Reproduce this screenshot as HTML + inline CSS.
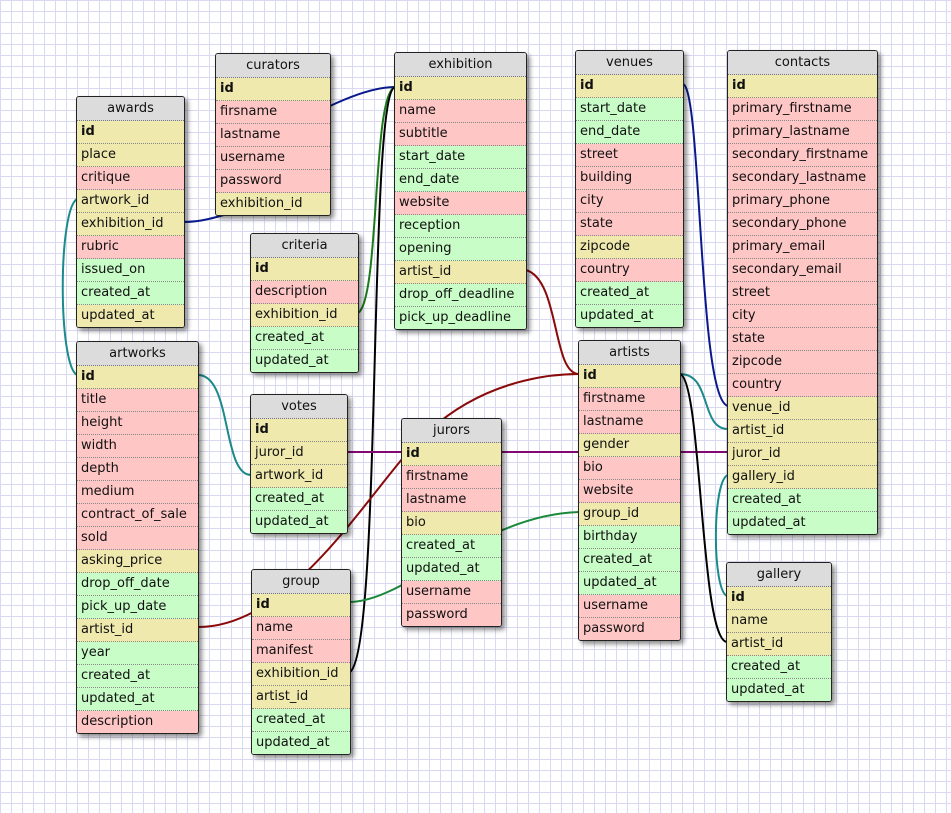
<!DOCTYPE html>
<html><head><meta charset="utf-8"><style>
body{margin:0;width:951px;height:813px;overflow:hidden;background:#fff;
background-image:linear-gradient(#d9d9f2 1px,transparent 1px),linear-gradient(90deg,#d9d9f2 1px,transparent 1px);background-size:11px 11px;font-family:"DejaVu Sans","Liberation Sans",sans-serif;font-size:13px;color:#111}
.t{position:absolute;border:1px solid #222;border-radius:3px;box-shadow:3px 3px 5px rgba(0,0,0,.45);overflow:hidden;background:#fff;z-index:2}
.h{height:23px;line-height:23px;text-align:center;background:#dcdcdc;border-bottom:1px dotted #777}
.r{height:22px;line-height:22px;padding-left:4px;border-bottom:1px dotted #888;white-space:nowrap}
.r:last-child{border-bottom:none}
.Y{background:#efe9ad}.P{background:#ffc6c6}.G{background:#c8fdc8}
.b{font-weight:bold}
svg{position:absolute;left:0;top:0;z-index:1}
</style></head><body>
<svg width="951" height="813" fill="none" stroke-width="2">
<path d="M184 222 C200 222,215 218,240 210" stroke="#0a1a8c"/>
<path d="M330 106 C360 92,380 87,395 87" stroke="#0a1a8c"/>
<path d="M358 313 C380 300,372 93,395 87" stroke="#1a7a1a"/>
<path d="M350 672 C382 650,368 93,395 87" stroke="#000"/>
<path d="M77 199 C58 210,58 365,77 375" stroke="#1a8a8a"/>
<path d="M198 375 C232 375,222 475,251 475" stroke="#1a8a8a"/>
<path d="M526 270 C560 280,552 374,579 374" stroke="#8a0a0a"/>
<path d="M198 627 C300 627,380 470,430 430 C480 385,540 374,579 374" stroke="#8a0a0a"/>
<path d="M347 452 L728 452" stroke="#800a70"/>
<path d="M350 602 C410 600,480 515,579 512" stroke="#1a8a3a"/>
<path d="M683 84 C702 90,698 400,728 406" stroke="#0a1a8c"/>
<path d="M680 374 C712 374,700 429,728 429" stroke="#1a8a8a"/>
<path d="M680 374 C702 380,700 640,727 642" stroke="#000"/>
<path d="M728 475 C712 480,712 590,727 596" stroke="#1a8a8a"/>
</svg>

<div class="t" style="left:76px;top:96px;width:107px"><div class="h">awards</div>
<div class="r Y b">id</div><div class="r Y">place</div><div class="r P">critique</div><div class="r Y">artwork_id</div><div class="r Y">exhibition_id</div><div class="r P">rubric</div><div class="r G">issued_on</div><div class="r G">created_at</div><div class="r Y">updated_at</div></div>

<div class="t" style="left:215px;top:53px;width:114px"><div class="h">curators</div>
<div class="r Y b">id</div><div class="r P">firsname</div><div class="r P">lastname</div><div class="r P">username</div><div class="r P">password</div><div class="r Y">exhibition_id</div></div>

<div class="t" style="left:394px;top:52px;width:131px"><div class="h">exhibition</div>
<div class="r Y b">id</div><div class="r P">name</div><div class="r P">subtitle</div><div class="r G">start_date</div><div class="r G">end_date</div><div class="r P">website</div><div class="r G">reception</div><div class="r G">opening</div><div class="r Y">artist_id</div><div class="r G">drop_off_deadline</div><div class="r G">pick_up_deadline</div></div>

<div class="t" style="left:575px;top:50px;width:107px"><div class="h">venues</div>
<div class="r Y b">id</div><div class="r G">start_date</div><div class="r G">end_date</div><div class="r P">street</div><div class="r P">building</div><div class="r P">city</div><div class="r P">state</div><div class="r Y">zipcode</div><div class="r P">country</div><div class="r G">created_at</div><div class="r G">updated_at</div></div>

<div class="t" style="left:727px;top:50px;width:149px"><div class="h">contacts</div>
<div class="r Y b">id</div><div class="r P">primary_firstname</div><div class="r P">primary_lastname</div><div class="r P">secondary_firstname</div><div class="r P">secondary_lastname</div><div class="r P">primary_phone</div><div class="r P">secondary_phone</div><div class="r P">primary_email</div><div class="r P">secondary_email</div><div class="r P">street</div><div class="r P">city</div><div class="r P">state</div><div class="r P">zipcode</div><div class="r P">country</div><div class="r Y">venue_id</div><div class="r Y">artist_id</div><div class="r Y">juror_id</div><div class="r Y">gallery_id</div><div class="r G">created_at</div><div class="r G">updated_at</div></div>

<div class="t" style="left:250px;top:233px;width:107px"><div class="h">criteria</div>
<div class="r Y b">id</div><div class="r P">description</div><div class="r Y">exhibition_id</div><div class="r G">created_at</div><div class="r G">updated_at</div></div>

<div class="t" style="left:76px;top:341px;width:121px"><div class="h">artworks</div>
<div class="r Y b">id</div><div class="r P">title</div><div class="r P">height</div><div class="r P">width</div><div class="r P">depth</div><div class="r P">medium</div><div class="r P">contract_of_sale</div><div class="r P">sold</div><div class="r Y">asking_price</div><div class="r G">drop_off_date</div><div class="r G">pick_up_date</div><div class="r Y">artist_id</div><div class="r G">year</div><div class="r G">created_at</div><div class="r G">updated_at</div><div class="r P">description</div></div>

<div class="t" style="left:250px;top:394px;width:96px"><div class="h">votes</div>
<div class="r Y b">id</div><div class="r Y">juror_id</div><div class="r Y">artwork_id</div><div class="r G">created_at</div><div class="r G">updated_at</div></div>

<div class="t" style="left:401px;top:418px;width:99px"><div class="h">jurors</div>
<div class="r Y b">id</div><div class="r P">firstname</div><div class="r P">lastname</div><div class="r Y">bio</div><div class="r G">created_at</div><div class="r G">updated_at</div><div class="r P">username</div><div class="r P">password</div></div>

<div class="t" style="left:578px;top:340px;width:101px"><div class="h">artists</div>
<div class="r Y b">id</div><div class="r P">firstname</div><div class="r P">lastname</div><div class="r Y">gender</div><div class="r P">bio</div><div class="r P">website</div><div class="r Y">group_id</div><div class="r G">birthday</div><div class="r G">created_at</div><div class="r G">updated_at</div><div class="r P">username</div><div class="r P">password</div></div>

<div class="t" style="left:251px;top:569px;width:98px"><div class="h">group</div>
<div class="r Y b">id</div><div class="r P">name</div><div class="r P">manifest</div><div class="r Y">exhibition_id</div><div class="r Y">artist_id</div><div class="r G">created_at</div><div class="r G">updated_at</div></div>

<div class="t" style="left:726px;top:562px;width:104px"><div class="h">gallery</div>
<div class="r Y b">id</div><div class="r Y">name</div><div class="r Y">artist_id</div><div class="r G">created_at</div><div class="r G">updated_at</div></div>
</body></html>
